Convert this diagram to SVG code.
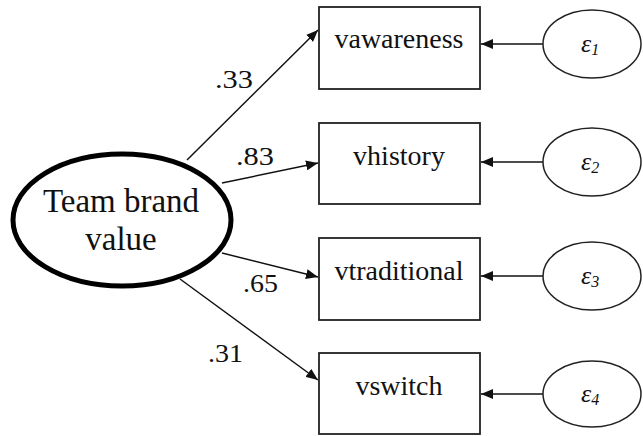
<svg xmlns="http://www.w3.org/2000/svg" width="643" height="436" viewBox="0 0 643 436">
  <style>
    .box { fill: #fff; stroke: #222; stroke-width: 1.8; }
    .err { fill: #fff; stroke: #222; stroke-width: 1.5; }
    .lat { fill: #fff; stroke: #000; stroke-width: 5; }
    .edge { stroke: #111; stroke-width: 1.5; fill: none; marker-end: url(#head); }
    .lbl { fill: #111; }
    .var { font-size: 28px; text-anchor: middle; }
    .coef { font-size: 25px; }
    .eps { font-size: 26px; font-style: italic; }
    .sub { font-size: 16px; font-style: italic; }
  </style>
  <defs>
    <marker id="head" viewBox="0 0 12 10" refX="12" refY="5" markerWidth="12" markerHeight="10" markerUnits="userSpaceOnUse" orient="auto">
      <path d="M0,0 L12,5 L0,10 z" fill="#111"/>
    </marker>
  </defs>

  <g font-family="'Liberation Serif', 'Times New Roman', serif">
    <!-- connectors with loading coefficients -->
    <g id="connectors">
      <line class="edge" x1="187" y1="160" x2="318" y2="30"/>
      <line class="edge" x1="222" y1="183" x2="318" y2="163"/>
      <line class="edge" x1="222" y1="253" x2="318" y2="277"/>
      <line class="edge" x1="180" y1="279" x2="318" y2="380"/>
      <line class="edge" x1="543" y1="44" x2="481" y2="44"/>
      <line class="edge" x1="543" y1="162" x2="481" y2="162"/>
      <line class="edge" x1="543" y1="276" x2="481" y2="276"/>
      <line class="edge" x1="543" y1="394" x2="481" y2="394"/>
      <text class="lbl coef" x="215" y="88" textLength="38" lengthAdjust="spacingAndGlyphs">.33</text>
      <text class="lbl coef" x="236" y="165" textLength="38" lengthAdjust="spacingAndGlyphs">.83</text>
      <text class="lbl coef" x="243" y="292" textLength="35" lengthAdjust="spacingAndGlyphs">.65</text>
      <text class="lbl coef" x="208" y="362" textLength="35" lengthAdjust="spacingAndGlyphs">.31</text>
    </g>

    <!-- latent factor -->
    <g id="team-brand-value">
      <ellipse class="lat" cx="122" cy="220" rx="109" ry="66"/>
      <text class="lbl" x="121" y="212" font-size="33" text-anchor="middle">Team brand</text>
      <text class="lbl" x="121" y="250" font-size="33" text-anchor="middle">value</text>
    </g>

    <!-- observed indicators -->
    <g id="vawareness">
      <rect class="box" x="319" y="7" width="161" height="82"/>
      <text class="lbl var" x="399" y="48">vawareness</text>
    </g>
    <g id="vhistory">
      <rect class="box" x="319" y="123" width="161" height="81"/>
      <text class="lbl var" x="399" y="165">vhistory</text>
    </g>
    <g id="vtraditional">
      <rect class="box" x="319" y="238" width="161" height="82"/>
      <text class="lbl var" x="399" y="280">vtraditional</text>
    </g>
    <g id="vswitch">
      <rect class="box" x="319" y="353" width="161" height="81"/>
      <text class="lbl var" x="399" y="395">vswitch</text>
    </g>

    <!-- error terms -->
    <g id="e1">
      <ellipse class="err" cx="592" cy="44" rx="49" ry="34"/>
      <text class="lbl" x="581" y="52"><tspan class="eps">ε</tspan><tspan class="sub" dy="3">1</tspan></text>
    </g>
    <g id="e2">
      <ellipse class="err" cx="592" cy="162" rx="49" ry="34"/>
      <text class="lbl" x="581" y="170"><tspan class="eps">ε</tspan><tspan class="sub" dy="3">2</tspan></text>
    </g>
    <g id="e3">
      <ellipse class="err" cx="592" cy="276" rx="49" ry="34"/>
      <text class="lbl" x="581" y="284"><tspan class="eps">ε</tspan><tspan class="sub" dy="3">3</tspan></text>
    </g>
    <g id="e4">
      <ellipse class="err" cx="592" cy="394" rx="49" ry="33"/>
      <text class="lbl" x="581" y="402"><tspan class="eps">ε</tspan><tspan class="sub" dy="3">4</tspan></text>
    </g>
  </g>
</svg>
